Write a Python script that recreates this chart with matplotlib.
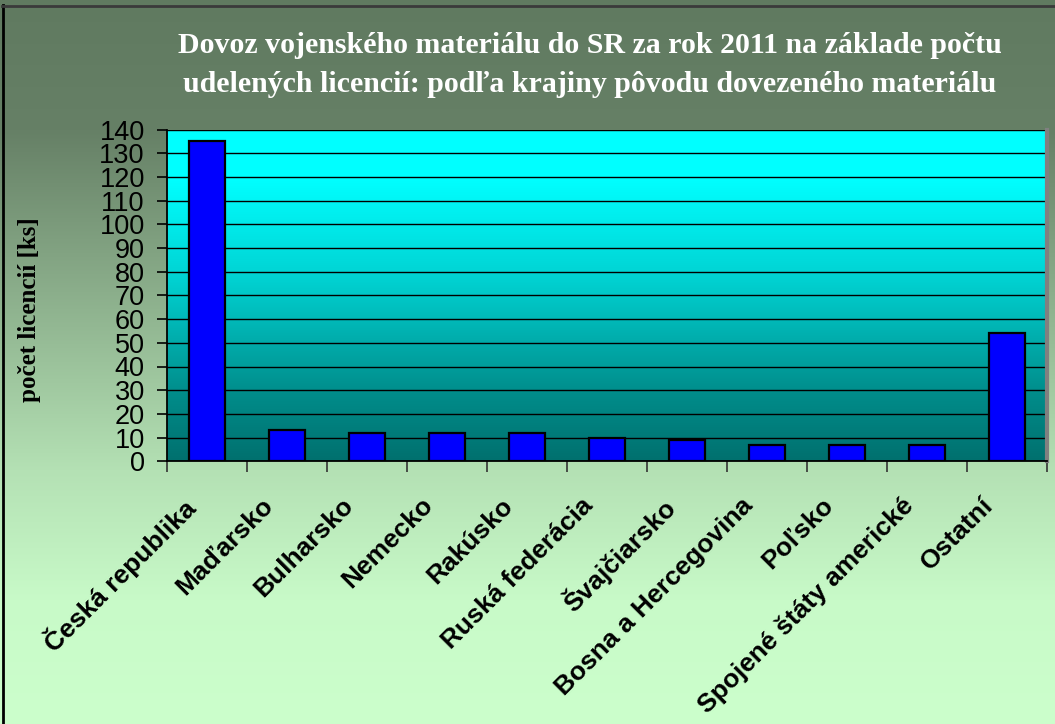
import numpy as np
import matplotlib
matplotlib.use("Agg")
import matplotlib.pyplot as plt
import matplotlib.transforms as mtransforms
from matplotlib.lines import Line2D

# ---- data ----
categories = ["Česká republika", "Maďarsko", "Bulharsko", "Nemecko", "Rakúsko",
              "Ruská federácia", "Švajčiarsko", "Bosna a Hercegovina", "Poľsko",
              "Spojené štáty americké", "Ostatní"]
values = [135, 13, 12, 12, 12, 10, 9, 7, 7, 7, 54]
y_ticks = list(range(0, 141, 10))
title = ("Dovoz vojenského materiálu do SR za rok 2011 na základe počtu\n"
         "udelených licencií: podľa krajiny pôvodu dovezeného materiálu")
ylabel = "počet licencií [ks]"

W, H = 1055, 724
fig = plt.figure(figsize=(W / 100, H / 100), dpi=100)

# ---- figure background gradient ----
bg_ax = fig.add_axes([0, 0, 1, 1], zorder=-10)
ys = np.arange(H)
stops_y = [0, 130, 470, 600, 724]
stops_c = np.array([[96, 122, 96], [102, 128, 102], [180, 225, 180],
                    [200, 250, 200], [204, 255, 204]]) / 255.0
grad = np.stack([np.interp(ys, stops_y, stops_c[:, k]) for k in range(3)], axis=1)
img = np.repeat(grad[:, None, :], 4, axis=1)
bg_ax.imshow(img, aspect="auto", extent=[0, 1, 0, 1], origin="upper")
bg_ax.set_xlim(0, 1)
bg_ax.set_ylim(0, 1)
bg_ax.axis("off")
# frame lines (left and top)
bg_ax.add_line(Line2D([2.5 / W, 2.5 / W], [0, 1 - 5 / H], color="black", lw=2))
bg_ax.add_line(Line2D([2 / W, 1], [1 - 5.5 / H, 1 - 5.5 / H], color="#3a3a3a", lw=2))

# ---- main axes ----
left, right = 167 / W, 1047 / W
bottom, top = 1 - 461.3 / H, 1 - 129.5 / H
ax = fig.add_axes([left, bottom, right - left, top - bottom])
ax.patch.set_alpha(0)

n = len(categories)
x = np.arange(n)
ax.set_xlim(-0.5, n - 0.5)
ax.set_ylim(0, 140)

# plot area gradient
t = np.linspace(0, 1, 400)
pt = [0, 0.15, 0.45, 0.8, 1.0]
pc = np.array([[0, 255, 255], [0, 255, 255], [0, 210, 210],
               [0, 140, 138], [0, 112, 110]]) / 255.0
pg = np.stack([np.interp(t, pt, pc[:, k]) for k in range(3)], axis=1)
pimg = np.repeat(pg[:, None, :], 4, axis=1)
ax.imshow(pimg, aspect="auto", extent=[-0.5, n - 0.5, 0, 140], origin="upper", zorder=0)

# gridlines
ax.set_yticks(y_ticks)
ax.yaxis.grid(True, color="black", lw=1.0, zorder=1)
ax.set_axisbelow(True)

ax.bar(x, values, width=0.44, color="#0000FF", edgecolor="black", lw=1.6, zorder=3)

# spines
ax.spines["top"].set_visible(False)
ax.spines["left"].set_color("black")
ax.spines["left"].set_linewidth(1.3)
ax.spines["bottom"].set_color("black")
ax.spines["bottom"].set_linewidth(1.3)
ax.spines["right"].set_color("#808080")
ax.spines["right"].set_linewidth(3)
for sp in ax.spines.values():
    sp.set_zorder(4)

# y ticks
ax.tick_params(axis="y", direction="out", length=7, width=1.2, color="black",
               pad=9, labelsize=19.5)
for lab in ax.get_yticklabels():
    lab.set_fontfamily("Liberation Sans")

# x ticks: major at boundaries, labels as minor at centers
ax.set_xticks(np.arange(-0.5, n, 1.0))
ax.set_xticklabels([])
ax.tick_params(axis="x", which="major", direction="out", length=8, width=1.2, color="#333333")
ax.set_xticks(x, minor=True)
ax.set_xticklabels(categories, minor=True, rotation=45, ha="right", va="top",
                   rotation_mode="anchor", fontsize=19, fontweight="bold",
                   fontfamily="Liberation Sans")
ax.tick_params(axis="x", which="minor", length=0, pad=23)
offset = mtransforms.ScaledTranslation(-26 / 100, 0, fig.dpi_scale_trans)
for lab in ax.get_xticklabels(minor=True):
    lab.set_transform(lab.get_transform() + offset)

# y label
fig.text(30 / W, 1 - 310 / H, ylabel, rotation=90, ha="center", va="center",
         fontsize=18, fontweight="bold", fontfamily="Liberation Serif", color="black")

# title
fig.text(590 / W, 1 - 65 / H, title, ha="center", va="center", fontsize=21.5,
         fontweight="bold", fontfamily="Liberation Serif", color="white",
         linespacing=1.6)

fig.savefig("out.png", dpi=100)
